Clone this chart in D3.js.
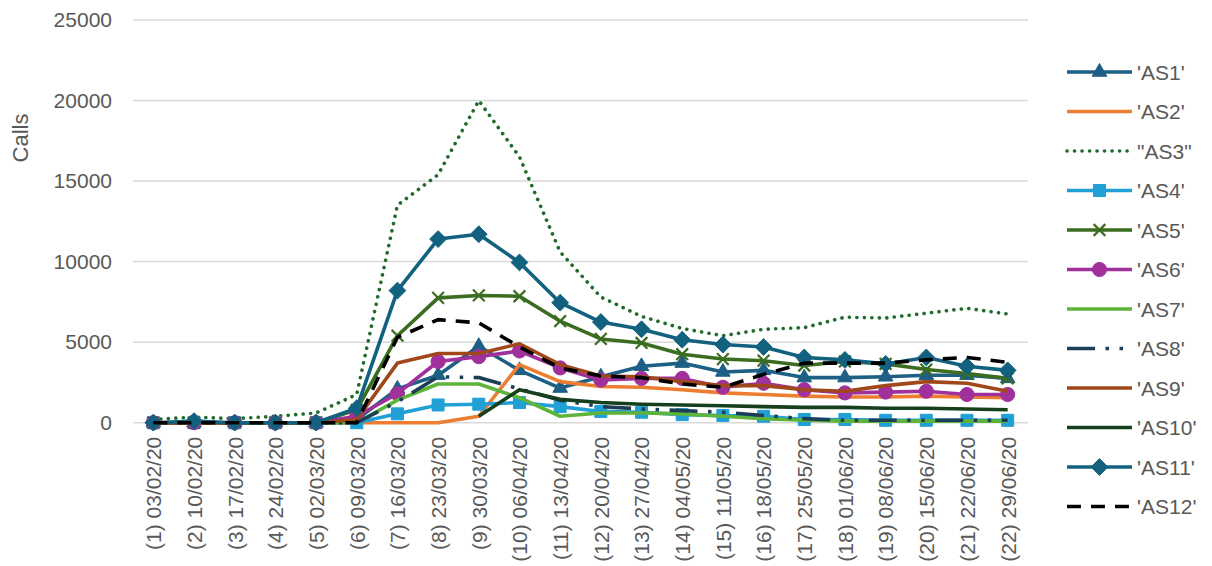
<!DOCTYPE html>
<html>
<head>
<meta charset="utf-8">
<script src="https://cdn.jsdelivr.net/npm/d3@7"></script>
<style>
  html, body { margin: 0; padding: 0; background: #ffffff; }
  svg { display: block; font-family: "Liberation Sans", Arial, sans-serif; }
</style>
</head>
<body>
<svg id="chart" width="1212" height="566"></svg>
<script>
// Weekly call counts per area, 03/02/20 to 29/06/20
const weeks = ["(1) 03/02/20","(2) 10/02/20","(3) 17/02/20","(4) 24/02/20","(5) 02/03/20","(6) 09/03/20",
  "(7) 16/03/20","(8) 23/03/20","(9) 30/03/20","(10) 06/04/20","(11) 13/04/20","(12) 20/04/20",
  "(13) 27/04/20","(14) 04/05/20","(15) 11/05/20","(16) 18/05/20","(17) 25/05/20","(18) 01/06/20",
  "(19) 08/06/20","(20) 15/06/20","(21) 22/06/20","(22) 29/06/20"];

const seriesNames = ["'AS1'","'AS2'","\"AS3\"","'AS4'","'AS5'","'AS6'","'AS7'","'AS8'","'AS9'","'AS10'","'AS11'","'AS12'"];

const as1  = [0,0,0,0,0,200,2100,2950,4750,3250,2150,2850,3500,3700,3150,3250,2800,2800,2850,2950,2950,2750];
const as2  = [0,0,0,0,0,0,0,0,400,3600,2550,2250,2200,2050,1850,1750,1650,1600,1600,1650,1600,1550];
const as3  = [200,350,250,400,600,1750,13500,15400,20000,16500,10600,7800,6600,5850,5400,5800,5900,6550,6500,6800,7100,6750];
const as4  = [0,0,0,0,0,0,550,1100,1150,1250,1000,700,650,500,450,400,200,200,150,150,150,150];
const as5  = [0,0,0,0,0,800,5400,7750,7900,7850,6300,5200,4950,4250,3950,3850,3550,3800,3650,3300,3050,2750];
const as6  = [0,0,0,0,0,400,1800,3800,4100,4450,3400,2650,2750,2750,2200,2450,2050,1850,1900,1950,1750,1750];
const as7  = [0,0,0,0,0,0,1400,2400,2400,1550,400,600,600,550,400,250,150,100,100,100,100,100];
const as8  = [0,0,0,0,0,0,1300,2850,2800,2100,1400,1000,850,750,650,450,250,150,150,150,150,150];
const as9  = [0,0,0,0,0,200,3700,4300,4300,4900,3600,2900,2850,2550,2300,2300,2050,1950,2300,2550,2450,1950];
const as10 = [null,null,null,null,null,null,null,null,400,2050,1450,1250,1150,1100,1050,1000,950,950,900,900,850,800];
const as11 = [0,100,0,0,0,900,8200,11400,11700,9950,7450,6250,5800,5150,4850,4700,4050,3900,3650,4050,3500,3250];
const as12 = [0,0,0,0,0,0,5300,6400,6200,4700,3400,2900,2800,2400,2200,3000,3700,3700,3700,3900,4050,3750];

const yTicks = [0, 5000, 10000, 15000, 20000, 25000];

// Line styling per series
const styles = [
  { data: as1,  color: "#1d5f85", marker: "triangle" },
  { data: as2,  color: "#ed7d31", marker: null },
  { data: as3,  color: "#1f6b2c", marker: null, dash: "0.1 7.4", cap: "round" },
  { data: as4,  color: "#21a0d6", marker: "square" },
  { data: as5,  color: "#3a6d20", marker: "cross" },
  { data: as6,  color: "#a0309b", marker: "circle" },
  { data: as7,  color: "#5eb33a", marker: null },
  { data: as8,  color: "#1c3e56", marker: null, dash: "28 10.5 3.5 10.5 3.5 10.5" },
  { data: as9,  color: "#a0481c", marker: null },
  { data: as10, color: "#163f1e", marker: null },
  { data: as11, color: "#12627f", marker: "diamond" },
  { data: as12, color: "#000000", marker: null, dash: "14 10" }
];

const svg = d3.select("#chart");
const plot = { left: 133, right: 1028, top: 20, bottom: 422.7 };

const x = d3.scalePoint().domain(weeks).range([plot.left, plot.right]).padding(0.5);
const y = d3.scaleLinear().domain([0, 25000]).range([plot.bottom, plot.top]);

// Gridlines
svg.append("g").selectAll("line").data(yTicks).join("line")
  .attr("x1", plot.left).attr("x2", plot.right)
  .attr("y1", d => y(d)).attr("y2", d => y(d))
  .attr("stroke", "#d9d9d9").attr("stroke-width", 1.5);

// Y axis labels
const yAxis = d3.axisLeft(y).tickValues(yTicks).tickSize(0).tickPadding(0).tickFormat(d3.format("d"));
const yg = svg.append("g").attr("transform", `translate(112,0)`).call(yAxis);
yg.select(".domain").remove();
yg.selectAll("text").attr("font-size", 21).attr("fill", "#595959")
  .attr("font-family", "Liberation Sans, Arial, sans-serif");

// X axis labels (rotated)
const xAxis = d3.axisBottom(x).tickSize(0).tickPadding(0);
const xg = svg.append("g").attr("transform", `translate(0,${plot.bottom})`).call(xAxis);
xg.select(".domain").remove();
xg.selectAll("text")
  .attr("font-size", 21).attr("fill", "#595959")
  .attr("font-family", "Liberation Sans, Arial, sans-serif")
  .attr("transform", "rotate(-90)")
  .attr("text-anchor", "end")
  .attr("x", -14).attr("y", 0).attr("dy", "0.35em");

// Y axis title
svg.append("text")
  .attr("transform", "translate(20,138) rotate(-90)")
  .attr("text-anchor", "middle").attr("dominant-baseline", "central")
  .attr("font-size", 22).attr("fill", "#595959")
  .text("Calls");

function markerPath(type, s) {
  if (type === "triangle") return d3.symbol(d3.symbolTriangle, s * s * 0.55)();
  if (type === "square") return d3.symbol(d3.symbolSquare, s * s)();
  if (type === "circle") return d3.symbol(d3.symbolCircle, s * s * 0.8)();
  if (type === "diamond") return `M0,${-s * 0.6}L${s * 0.6},0L0,${s * 0.6}L${-s * 0.6},0Z`;
  if (type === "cross") { const h = s * 0.45; return `M${-h},${-h}L${h},${h}M${-h},${h}L${h},${-h}`; }
  return null;
}

function drawMarker(g, type, color, cx, cy) {
  const size = { triangle: 13, square: 12, circle: 14, diamond: 14, cross: 13 }[type];
  const p = g.append("path").attr("d", markerPath(type, size))
    .attr("transform", `translate(${cx},${cy})`);
  if (type === "cross") p.attr("fill", "none").attr("stroke", color).attr("stroke-width", 2.2);
  else p.attr("fill", color).attr("stroke", color).attr("stroke-width", 1);
}

// Series lines and markers
styles.forEach(st => {
  const g = svg.append("g");
  const line = d3.line()
    .defined(d => d != null)
    .x((d, i) => x(weeks[i]))
    .y(d => y(d));
  const path = g.append("path").datum(st.data)
    .attr("d", line)
    .attr("fill", "none")
    .attr("stroke", st.color)
    .attr("stroke-width", 3.6)
    .attr("stroke-linejoin", "round")
    .attr("stroke-linecap", st.cap || "butt");
  if (st.dash) path.attr("stroke-dasharray", st.dash);
  if (st.marker) {
    st.data.forEach((v, i) => {
      if (v != null) drawMarker(g, st.marker, st.color, x(weeks[i]), y(v));
    });
  }
});

// Legend
const legend = svg.append("g");
styles.forEach((st, i) => {
  const ly = 72 + i * 39.5;
  const l = legend.append("line")
    .attr("x1", 1067).attr("x2", 1132).attr("y1", ly).attr("y2", ly)
    .attr("stroke", st.color).attr("stroke-width", 3.6)
    .attr("stroke-linecap", st.cap || "butt");
  if (st.dash) l.attr("stroke-dasharray", st.dash);
  if (st.marker) drawMarker(legend, st.marker, st.color, 1099.5, ly);
  legend.append("text")
    .attr("x", 1137).attr("y", ly).attr("dy", "0.36em")
    .attr("font-size", 21).attr("fill", "#595959")
    .text(seriesNames[i]);
});
</script>
</body>
</html>
